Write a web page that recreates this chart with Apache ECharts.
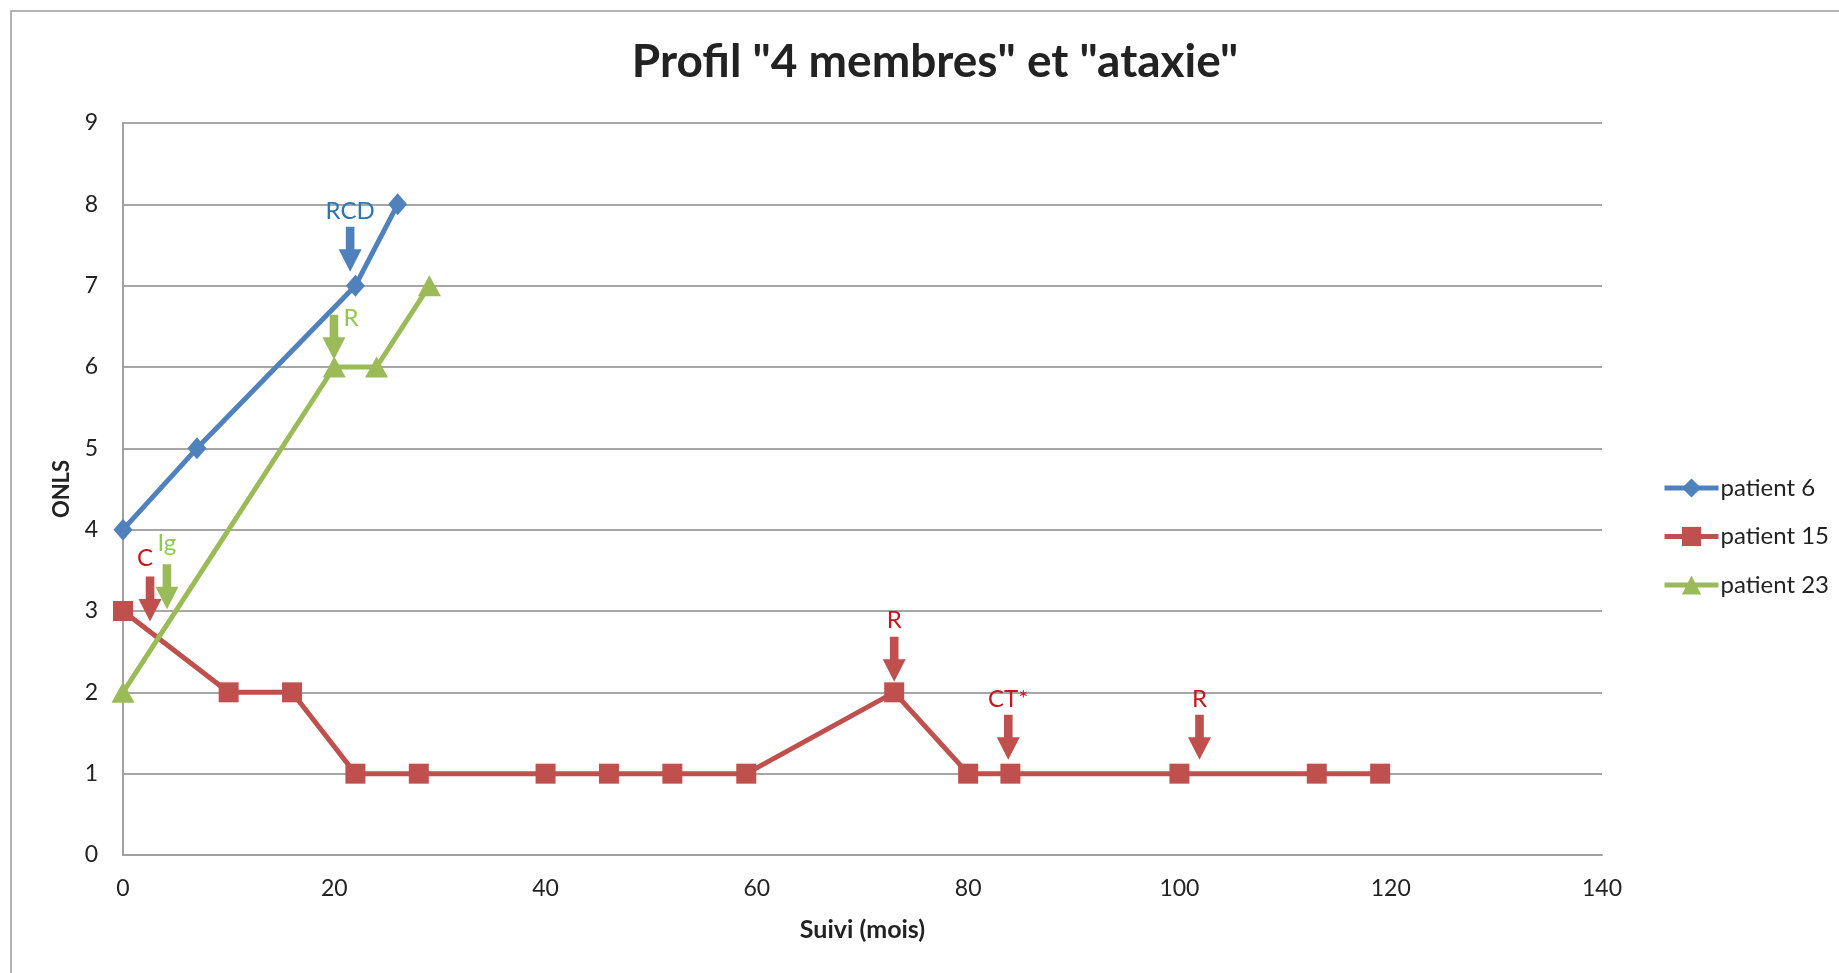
<!DOCTYPE html>
<html>
<head>
<meta charset="utf-8">
<script src="https://cdn.jsdelivr.net/npm/echarts@6/dist/echarts.min.js"></script>
<style>
html,body{margin:0;padding:0;background:#fff;}
#chart{width:1839px;height:973px;}
</style>
</head>
<body>
<div id="chart"></div>
<script>
// ---- data ----
const titleText = 'Profil "4 membres" et "ataxie"';
const xAxisName = 'Suivi (mois)';
const yAxisName = 'ONLS';
const seriesNames = ['patient 6', 'patient 15', 'patient 23'];

const patient6 = [[0, 4], [7, 5], [22, 7], [26, 8]];
const patient15 = [[0, 3], [10, 2], [16, 2], [22, 1], [28, 1], [40, 1], [46, 1], [52, 1], [59, 1], [73, 2], [80, 1], [84, 1], [100, 1], [113, 1], [119, 1]];
const patient23 = [[0, 2], [20, 6], [24, 6], [29, 7]];

// annotations: [text, x, y of arrow tip]
const notes6 = [['RCD', 21.5, 7.17]];
const notes15 = [['C', 2.56, 2.87], ['R', 73.0, 2.13], ['CT*', 83.8, 1.17], ['R', 101.9, 1.17]];
const notes23 = [['Ig', 4.16, 3.02], ['R', 19.97, 6.09]];

// ---- styles ----
const lineColors = ['#4F81BD', '#C0504D', '#9BBB59'];
const noteColors = ['#2E75B6', '#C4171F', '#92C94A'];
const FONT = 'Lato, "Open Sans", sans-serif';
const arrowPath = 'path://M7.5,0L16.5,0L16.5,23L24,23L12,46L0,23L7.5,23Z';

function buildMarks(notes, i) {
  return {
    symbol: arrowPath,
    symbolSize: [23, 45],
    symbolOffset: [0, -22.5],
    symbolKeepAspect: false,
    silent: true,
    itemStyle: { color: lineColors[i] },
    label: {
      show: true,
      position: 'top',
      distance: 4,
      color: noteColors[i],
      fontSize: 24,
      fontFamily: FONT
    },
    data: notes.map(function (n, k) {
      const d = { coord: [n[1], n[2]], value: n[0], label: { formatter: n[0] } };
      // green "R" label sits to the right of its arrow
      if (i === 2 && k === 1) {
        d.label = { formatter: n[0], position: 'right', distance: -2, offset: [0, -19] };
      }
      if (i === 2 && k === 0) {
        d.label = { formatter: n[0], distance: 9 };
      }
      if (i === 1 && k === 0) {
        d.label = { formatter: n[0], offset: [-5, -2] };
      }
      return d;
    })
  };
}

const seriesData = [patient6, patient15, patient23];
const symbols = ['diamond', 'rect', 'triangle'];
const symbolSizes = [[19, 22], 20, [23, 21]];
const notesAll = [notes6, notes15, notes23];

const chart = echarts.init(document.getElementById('chart'));
chart.setOption({
  animation: false,
  backgroundColor: '#fff',
  textStyle: { fontFamily: FONT },
  graphic: [{
    type: 'rect',
    shape: { x: 11, y: 11, width: 1900, height: 1000 },
    style: { fill: 'none', stroke: '#9a9a9a', lineWidth: 1.5 },
    silent: true,
    z: -10
  }],
  title: {
    text: titleText,
    left: 930,
    textAlign: 'center',
    top: 34,
    textStyle: { fontSize: 46, fontWeight: 'bold', color: '#222', fontFamily: FONT }
  },
  legend: {
    orient: 'vertical',
    left: 1657,
    top: 471,
    itemWidth: 54,
    itemHeight: 24,
    itemGap: 24.5,
    data: seriesNames,
    lineStyle: { width: 5 },
    textStyle: { fontSize: 24, color: '#222', fontFamily: FONT, padding: [0, 0, 0, -3] }
  },
  grid: { left: 123, top: 123, right: 237, bottom: 118 },
  xAxis: {
    type: 'value',
    min: 0, max: 140, interval: 20,
    name: xAxisName,
    nameLocation: 'middle',
    nameGap: 62,
    nameTextStyle: { fontSize: 25, fontWeight: 'bold', color: '#222', fontFamily: FONT },
    axisLine: { show: true, lineStyle: { color: '#a0a0a0', width: 2 } },
    axisTick: { show: false },
    axisLabel: { fontSize: 23, color: '#222', margin: 22, fontFamily: FONT },
    splitLine: { show: false }
  },
  yAxis: {
    type: 'value',
    min: 0, max: 9, interval: 1,
    name: yAxisName,
    nameLocation: 'middle',
    nameGap: 50,
    nameRotate: 90,
    nameTextStyle: { fontSize: 22, fontWeight: 'bold', color: '#222', fontFamily: FONT },
    axisLine: { show: true, lineStyle: { color: '#a0a0a0', width: 2 } },
    axisTick: { show: false },
    axisLabel: { fontSize: 23, color: '#222', margin: 25, fontFamily: FONT },
    splitLine: { show: true, lineStyle: { color: '#a6a6a6', width: 2 } }
  },
  series: seriesNames.map(function (name, i) {
    return {
      name: name,
      type: 'line',
      data: seriesData[i],
      symbol: symbols[i],
      symbolSize: symbolSizes[i],
      showAllSymbol: true,
      lineStyle: { color: lineColors[i], width: 5 },
      itemStyle: { color: lineColors[i] },
      markPoint: buildMarks(notesAll[i], i)
    };
  })
});
</script>
</body>
</html>
